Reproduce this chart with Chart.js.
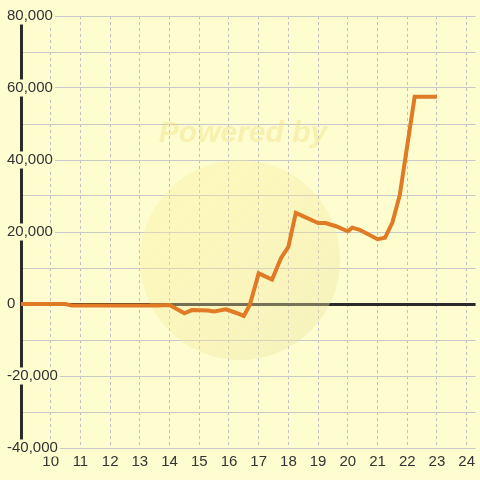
<!DOCTYPE html>
<html>
<head>
<meta charset="utf-8">
<script src="https://cdn.jsdelivr.net/npm/chart.js@4.4.0/dist/chart.umd.min.js"></script>
<style>
  html, body { margin: 0; padding: 0; background: #fdfdd0; }
  canvas { display: block; }
</style>
</head>
<body>
<canvas id="myLineChart" width="480" height="480"></canvas>
<script>
// hour of day and value
const hours = [9, 10.5, 10.7, 13.6, 14.0, 14.5, 14.75, 15.3, 15.5, 15.9, 16.25, 16.5, 16.7, 17.0, 17.45, 17.75, 18.0, 18.25, 19.0, 19.25, 19.6, 20.0, 20.15, 20.4, 21.0, 21.25, 21.5, 21.75, 22.25, 23.0];
const values = [0, 0, -400, -400, -300, -2600, -1700, -1800, -2100, -1500, -2500, -3300, -300, 8500, 6800, 12700, 15900, 25300, 22500, 22500, 21600, 20200, 21200, 20600, 18000, 18400, 22600, 30300, 57600, 57600];
const xTicks = [9, 10, 11, 12, 13, 14, 15, 16, 17, 18, 19, 20, 21, 22, 23, 24];
const yTicks = [-40000, -30000, -20000, -10000, 0, 10000, 20000, 30000, 40000, 50000, 60000, 70000, 80000];

const bg = '#fdfdd0';

// faint "Powered by" watermark behind the line
const watermark = {
    id: 'watermark',
    beforeDatasetsDraw(chart) {
        const c = chart.ctx;
        c.save();
        const g = c.createLinearGradient(150, 170, 330, 350);
        g.addColorStop(0, 'rgba(255, 238, 150, 0.32)');
        g.addColorStop(1, 'rgba(236, 226, 160, 0.4)');
        c.fillStyle = g;
        c.beginPath();
        c.arc(240, 260, 100, 0, Math.PI * 2);
        c.fill();
        c.font = 'italic bold 30px "Liberation Sans", Arial, sans-serif';
        c.fillStyle = 'rgba(240, 218, 120, 0.38)';
        c.textAlign = 'center';
        c.textBaseline = 'middle';
        c.fillText('Powered by', 243, 134);
        c.restore();
    }
};

const ctx = document.getElementById('myLineChart').getContext('2d');
const myLineChart = new Chart(ctx, {
    type: 'line',
    data: {
        datasets: [{
            data: hours.map((h, i) => ({ x: h, y: values[i] })),
            borderColor: '#e07a24',
            borderWidth: 4,
            pointRadius: 0,
            tension: 0,
            fill: false
        }]
    },
    options: {
        responsive: false,
        animation: false,
        layout: { padding: { left: 21, top: 16, right: 0, bottom: 0 } },
        plugins: {
            legend: { display: false },
            tooltip: { enabled: false }
        },
        scales: {
            x: {
                type: 'linear',
                min: 9,
                max: 24.3,
                afterBuildTicks: s => { s.ticks = xTicks.map(v => ({ value: v })); },
                afterFit: s => { s.height = 32; },
                grid: {
                    color: '#c0c0c0',
                    lineWidth: 1,
                    drawTicks: false
                },
                border: { display: false, dash: [3, 3] },
                ticks: {
                    padding: 5,
                    color: '#333',
                    font: { family: '"Liberation Sans", Arial, sans-serif', size: 15 },
                    callback: v => (v < 10 ? '' : String(v))
                }
            },
            y: {
                min: -40000,
                max: 80000,
                afterBuildTicks: s => { s.ticks = yTicks.map(v => ({ value: v })); },
                afterFit: s => { s.width = 0; },
                grid: {
                    color: c => (c.tick && c.tick.value === 0 ? '#2b2b2b' : '#c8c8c8'),
                    lineWidth: c => (c.tick && c.tick.value === 0 ? 3 : 1),
                    drawTicks: false
                },
                border: { display: true, color: '#2b2b2b', width: 3 },
                ticks: {
                    mirror: true,
                    padding: -14,
                    color: '#333',
                    font: { family: '"Liberation Sans", Arial, sans-serif', size: 15, lineHeight: 1 },
                    showLabelBackdrop: true,
                    backdropColor: bg,
                    backdropPadding: { top: 1, bottom: 1, left: 1, right: 2 },
                    callback: v => (v % 20000 === 0 ? v.toLocaleString('en-US') : '')
                }
            }
        }
    },
    plugins: [watermark]
});
</script>
</body>
</html>
